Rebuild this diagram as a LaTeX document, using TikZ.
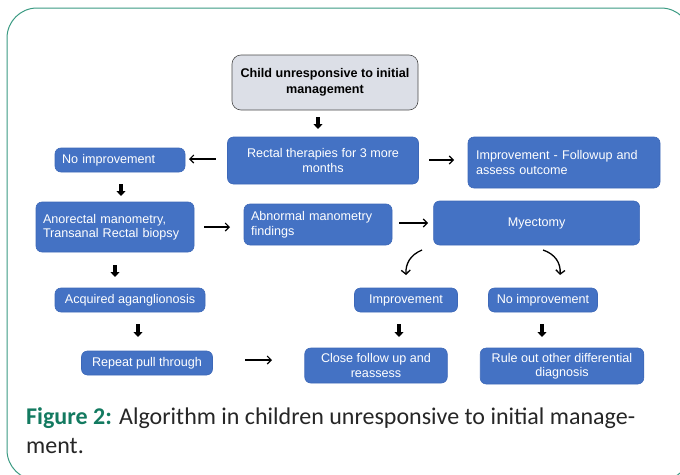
\documentclass[tikz,border=0pt]{standalone}
\usepackage{fontspec}
\setmainfont{Liberation Sans}
\newfontfamily\capfont{Carlito}
\usetikzlibrary{arrows.meta}
\definecolor{boxblue}{HTML}{4472C4}
\definecolor{boxedge}{HTML}{3D68B8}
\definecolor{greybox}{HTML}{DCDFE7}
\definecolor{greyedge}{HTML}{4A4A4A}
\definecolor{framegreen}{HTML}{3A9A82}
\definecolor{capgreen}{HTML}{137A60}
\begin{document}
\begin{tikzpicture}[x=1pt,y=-1pt,
  bbox/.style={draw=boxedge, line width=0.6pt, fill=boxblue, rounded corners=6pt,
    text=white, font=\fontsize{12.6}{14.5}\selectfont, inner xsep=0pt, inner ysep=0pt, align=center},
  wh/.style 2 args={minimum width=#1, minimum height=#2},
  lbox/.style={bbox, inner xsep=7pt, text width=#1, align=left},
  topbox/.style={bbox, draw=greyedge, fill=greybox, text=black, rounded corners=9pt,
    font=\bfseries\fontsize{12.6}{15.5}\selectfont},
  dnarrow/.style={line width=3.4pt, -{Triangle[width=9pt,length=5pt]}},
  tharrow/.style={line width=1.1pt, -{Straight Barb[length=4pt,width=8pt]}},
  cvarrow/.style={line width=1.3pt, -{Straight Barb[length=4pt,width=9pt]}},
]
\useasboundingbox (0,0) rectangle (680,474);
\clip (0,0) rectangle (680,474);
\draw[framegreen, line width=1pt, rounded corners=30pt] (7,8) rectangle (691,480);

% nodes
\node[topbox, wh={186pt}{55pt}] (top) at (325,82.5) {Child unresponsive to initial\\management};
\node[bbox, wh={191pt}{47pt}] (rect) at (323,160.5) {Rectal therapies for 3 more\\months};
\node[lbox=116pt, wh={130pt}{24pt}] (noimpA) at (120,160) {No improvement};
\node[lbox=176pt, wh={192pt}{51pt}] (impF) at (564,162.5) {Improvement - Followup and\\assess outcome};
\node[lbox=144pt, wh={158pt}{50pt}] (anor) at (115,227) {Anorectal manometry,\\Transanal Rectal biopsy};
\node[lbox=134pt, wh={148pt}{41pt}] (abn) at (318,224.5) {Abnormal manometry\\findings};
\node[bbox, wh={206pt}{44pt}] (myec) at (536.6,223) {Myectomy};
\node[bbox, wh={150pt}{24pt}] (acq) at (130,300) {Acquired aganglionosis};
\node[bbox, wh={103pt}{24pt}] (imp) at (406,300) {Improvement};
\node[bbox, wh={109pt}{24pt}] (noimpB) at (543,300) {No improvement};
\node[bbox, wh={131pt}{24pt}] (rep) at (147,363) {Repeat pull through};
\node[bbox, wh={142.5pt}{35pt}] (close) at (376,365.5) {Close follow up and\\reassess};
\node[bbox, wh={163.5pt}{36pt}] (rule) at (562,366) {Rule out other differential\\diagnosis};

% arrow end points
\coordinate (d1a) at (318,117); \coordinate (d1b) at (318,129);
\coordinate (d2a) at (121,184); \coordinate (d2b) at (121,196);
\coordinate (d3a) at (115,265); \coordinate (d3b) at (115,277);
\coordinate (d4a) at (138,324); \coordinate (d4b) at (138,337);
\coordinate (d5a) at (399,324); \coordinate (d5b) at (399,337);
\coordinate (d6a) at (542,324); \coordinate (d6b) at (542,337);
\coordinate (h1a) at (215.5,159); \coordinate (h1b) at (189,159);
\coordinate (h2a) at (429,160); \coordinate (h2b) at (454,160);
\coordinate (h3a) at (204,227); \coordinate (h3b) at (230,227);
\coordinate (h4a) at (399,223); \coordinate (h4b) at (428,223);
\coordinate (h5a) at (245,360); \coordinate (h5b) at (272,360);
\coordinate (c1a) at (422,250); \coordinate (c1p) at (410,255); \coordinate (c1q) at (405.5,264); \coordinate (c1b) at (406,275);
\coordinate (c2a) at (543,250); \coordinate (c2p) at (555,254); \coordinate (c2q) at (561,263); \coordinate (c2b) at (560,275);

% connectors
\draw[dnarrow] (d1a) -- (d1b);
\draw[dnarrow] (d2a) -- (d2b);
\draw[dnarrow] (d3a) -- (d3b);
\draw[dnarrow] (d4a) -- (d4b);
\draw[dnarrow] (d5a) -- (d5b);
\draw[dnarrow] (d6a) -- (d6b);
\draw[tharrow] (h1a) -- (h1b);
\draw[tharrow] (h2a) -- (h2b);
\draw[tharrow] (h3a) -- (h3b);
\draw[tharrow] (h4a) -- (h4b);
\draw[tharrow] (h5a) -- (h5b);
\draw[cvarrow] (c1a) .. controls (c1p) and (c1q) .. (c1b);
\draw[cvarrow] (c2a) .. controls (c2p) and (c2q) .. (c2b);

% caption
\node[anchor=base west, inner sep=0pt, align=left,
  font=\capfont\fontsize{24}{29}\selectfont, text=black!85] (cap) at (26,453)
  {\textcolor{capgreen}{\bfseries Figure 2:} Algorithm in children unresponsive to initial manage-\\ment.};
\end{tikzpicture}
\end{document}
